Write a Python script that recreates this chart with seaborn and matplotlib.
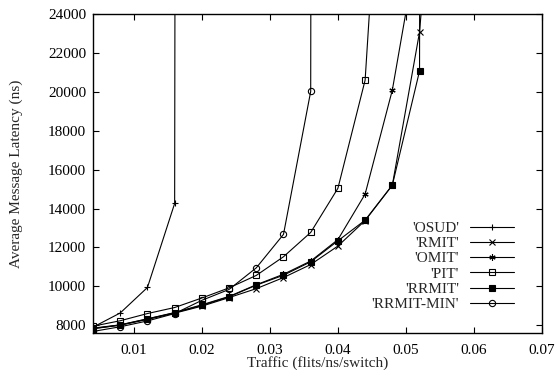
import numpy as np
import pandas as pd
import matplotlib
matplotlib.use('Agg')
import matplotlib.pyplot as plt
import seaborn as sns

# traffic values (flits/ns/switch) - each series uses the first N of them
traffic = [0.004, 0.008, 0.012, 0.016, 0.020, 0.024, 0.028, 0.032,
           0.036, 0.040, 0.044, 0.048, 0.052, 0.056]

# latencies; the huge last values push the lines off the top
osud = [7900, 8630, 9940, 14260, 1000000]
rmit = [7820, 8000, 8300, 8620, 8980, 9420, 9880, 10450, 11120, 12070,
        13380, 15200, 23070, 40000]
omit = [7850, 8020, 8330, 8650, 9050, 9480, 10080, 10620, 11300, 12400,
        14740, 20090, 28100]
pit = [7950, 8230, 8600, 8910, 9400, 9920, 10560, 11520, 12770, 15040,
       20600, 42600]
rrmit = [7830, 8010, 8320, 8640, 9020, 9460, 10060, 10570, 11260, 12340,
         13400, 15200, 21070, 1000000]
rrmit_min = [7680, 7920, 8220, 8600, 9280, 9840, 10950, 12670, 20020, 1000000]

series = [
    ("'OSUD'", osud, '+', 'black'),
    ("'RMIT'", rmit, 'x', 'black'),
    ("'OMIT'", omit, (6, 2, 0), 'black'),
    ("'PIT'", pit, 's', 'none'),
    ("'RRMIT'", rrmit, 's', 'black'),
    ("'RRMIT-MIN'", rrmit_min, 'o', 'none'),
]

sns.set_style('ticks')
plt.rcParams['font.family'] = ['Liberation Serif', 'DejaVu Serif']
plt.rcParams['font.size'] = 11

fig = plt.figure(figsize=(5.56, 3.70), dpi=100)
ax = fig.add_axes([0.1673, 0.10, 0.8075, 0.8622])

for name, vals, mk, face in series:
    df = pd.DataFrame({'x': traffic[:len(vals)], 'y': vals})
    sns.lineplot(data=df, x='x', y='y', ax=ax, color='black', lw=0.8,
                 marker=mk, markersize=4.5 if mk != 'x' else 4,
                 markerfacecolor=face, markeredgecolor='black',
                 markeredgewidth=0.8, label=name)

ax.set_xlim(0.004, 0.07)
ax.set_ylim(7600, 24000)
ax.set_xticks([0.01, 0.02, 0.03, 0.04, 0.05, 0.06, 0.07])
ax.set_xticklabels(['0.01', '0.02', '0.03', '0.04', '0.05', '0.06', '0.07'])
ax.set_yticks(range(8000, 24001, 2000))
ax.tick_params(direction='in', length=4, width=0.8, top=True, right=True,
               labelsize=11, colors='black', pad=5)
ax.tick_params(axis='x', pad=8)
for s in ax.spines.values():
    s.set_linewidth(1.0)
    s.set_color('black')

ax.set_xlabel('Traffic (flits/ns/switch)', fontsize=11, labelpad=-1)
ax.set_ylabel('Average Message Latency (ns)', fontsize=11, labelpad=18)

ax.legend(loc='lower right', bbox_to_anchor=(0.962, 0.035), frameon=False,
          markerfirst=False, handlelength=2.9, handletextpad=0.7,
          labelspacing=0.1, fontsize=11, borderaxespad=0.3)

fig.savefig('out.png', dpi=100)
plt.close()
